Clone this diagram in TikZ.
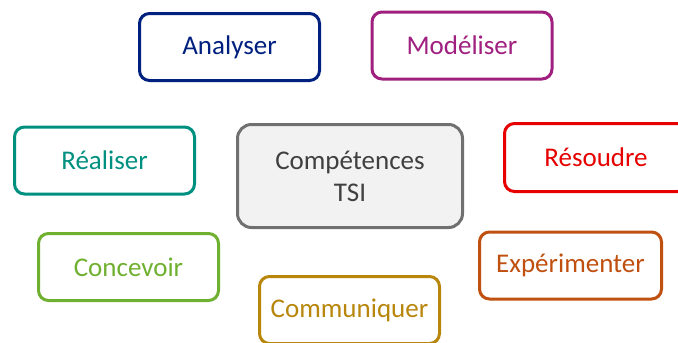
\documentclass[tikz,border=0pt]{standalone}
\usepackage{fontspec}
\setmainfont{Carlito}
\definecolor{cAna}{RGB}{0,32,128}
\definecolor{cMod}{RGB}{160,32,128}
\definecolor{cRea}{RGB}{0,144,128}
\definecolor{cRes}{RGB}{230,0,0}
\definecolor{cCon}{RGB}{112,176,48}
\definecolor{cCom}{RGB}{184,134,11}
\definecolor{cExp}{RGB}{192,80,16}
\definecolor{cTsiB}{RGB}{112,112,112}
\definecolor{cTsiF}{RGB}{242,242,242}
\definecolor{cTsiT}{RGB}{64,64,64}
\begin{document}
\begin{tikzpicture}[x=1pt,y=-1pt,
  skill/.style={draw=#1, text=#1, line width=3pt, rounded corners=10pt, fill=white,
    minimum width=180pt, minimum height=67pt, inner sep=0pt, align=center,
    font=\fontsize{27}{32}\selectfont}]
\useasboundingbox (0,0) rectangle (678,343);
\clip (0,0) rectangle (678,343);
\node[skill=cAna] (ana) at (229.5,47) {Analyser};
\node[skill=cMod] (mod) at (462,45.5) {Modéliser};
\node[skill=cRea] (rea) at (104.5,160.5) {Réaliser};
\node[skill=cRes, minimum width=183pt, minimum height=68pt] (res) at (596,157.5) {Résoudre};
\node[skill=cCon] (con) at (128.5,267) {Concevoir};
\node[skill=cCom] (com) at (349.5,310) {Communiquer};
\node[skill=cExp, minimum width=182pt] (exp) at (570.5,265.5) {Expérimenter};
\node[skill=cTsiB, text=cTsiT, fill=cTsiF, minimum width=225pt, minimum height=103pt, rounded corners=14pt] (tsi) at (350,176) {Compétences\\TSI};
\end{tikzpicture}
\end{document}
